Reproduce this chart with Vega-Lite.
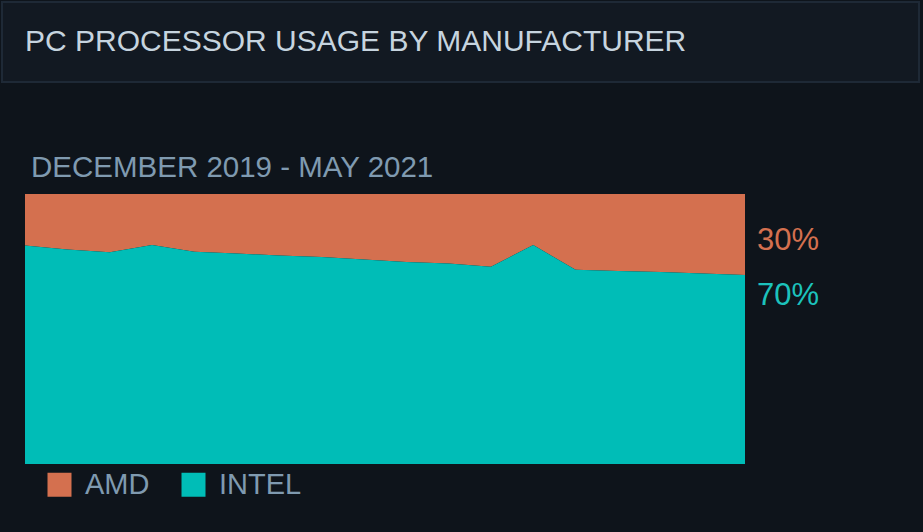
{
  "$schema": "https://vega.github.io/schema/vega-lite/v6.json",
  "background": "#0e141b",
  "padding": {"left": 0, "top": 0, "right": 3, "bottom": 13},
  "spacing": 69,
  "config": {"view": {"stroke": null}},
  "vconcat": [
    {
      "width": 917,
      "height": 80,
      "view": {"fill": "#121922", "stroke": "#1e2936", "strokeWidth": 2},
      "title": {
        "text": "PC PROCESSOR USAGE BY MANUFACTURER",
        "anchor": "start",
        "frame": "group",
        "baseline": "alphabetic",
        "offset": -79,
        "dx": 23,
        "fontSize": 30,
        "font": "Liberation Sans",
        "fontWeight": "normal",
        "color": "#c6d4df"
      },
      "data": {"values": [{}]},
      "mark": {"type": "rule", "strokeOpacity": 0},
      "encoding": {}
    },
    {
      "spacing": 22,
      "resolve": {"legend": {"color": "independent"}, "scale": {"color": "independent"}},
      "hconcat": [
        {
          "width": 1,
          "height": 1,
          "data": {"values": [{}]},
          "mark": {"type": "rule", "strokeOpacity": 0},
          "encoding": {}
        },
        {
          "width": 720,
          "height": 270,
          "title": {
            "text": "DECEMBER 2019 - MAY 2021",
            "anchor": "start",
            "frame": "group",
            "baseline": "alphabetic",
            "offset": -12,
            "dx": 6,
            "fontSize": 29.5,
            "font": "Liberation Sans",
            "fontWeight": "normal",
            "color": "#7f9ab0"
          },
          "data": {
            "values": [
              {"month": "2019-12", "INTEL": 0.809, "AMD": 0.191},
              {"month": "2020-01", "INTEL": 0.794, "AMD": 0.206},
              {"month": "2020-02", "INTEL": 0.784, "AMD": 0.216},
              {"month": "2020-03", "INTEL": 0.811, "AMD": 0.189},
              {"month": "2020-04", "INTEL": 0.786, "AMD": 0.214},
              {"month": "2020-05", "INTEL": 0.780, "AMD": 0.220},
              {"month": "2020-06", "INTEL": 0.772, "AMD": 0.228},
              {"month": "2020-07", "INTEL": 0.767, "AMD": 0.233},
              {"month": "2020-08", "INTEL": 0.757, "AMD": 0.243},
              {"month": "2020-09", "INTEL": 0.748, "AMD": 0.252},
              {"month": "2020-10", "INTEL": 0.743, "AMD": 0.257},
              {"month": "2020-11", "INTEL": 0.731, "AMD": 0.269},
              {"month": "2020-12", "INTEL": 0.811, "AMD": 0.189},
              {"month": "2021-01", "INTEL": 0.719, "AMD": 0.281},
              {"month": "2021-02", "INTEL": 0.715, "AMD": 0.285},
              {"month": "2021-03", "INTEL": 0.711, "AMD": 0.289},
              {"month": "2021-04", "INTEL": 0.706, "AMD": 0.294},
              {"month": "2021-05", "INTEL": 0.700, "AMD": 0.300}
            ]
          },
          "layer": [
            {
              "transform": [{"fold": ["AMD", "INTEL"], "as": ["maker", "share"]}],
              "mark": {"type": "area", "interpolate": "linear", "opacity": 1},
              "encoding": {
                "x": {"field": "month", "type": "ordinal", "scale": {"type": "point", "padding": 0}, "axis": null},
                "y": {
                  "field": "share", "type": "quantitative", "stack": "normalize",
                  "scale": {"domain": [0, 1], "nice": false},
                  "axis": null
                },
                "color": {
                  "field": "maker", "type": "nominal",
                  "scale": {"domain": ["AMD", "INTEL"], "range": ["#d4704f", "#00bdb7"]},
                  "legend": {
                    "orient": "bottom", "direction": "horizontal", "title": null,
                    "symbolType": "square", "symbolSize": 576, "symbolStrokeWidth": 0, "symbolOpacity": 1,
                    "labelFontSize": 29, "labelFont": "Liberation Sans", "labelColor": "#7f9ab0",
                    "labelOffset": 11, "columnPadding": 29, "padding": 20, "offset": -14
                  }
                },
                "order": {"field": "maker", "sort": "descending"}
              }
            },
            {
              "transform": [{"filter": "datum.month === '2021-05'"}],
              "mark": {"type": "text", "align": "left", "baseline": "alphabetic", "dx": 12, "dy": -25, "fontSize": 31, "font": "Liberation Sans", "color": "#d4704f"},
              "encoding": {
                "x": {"field": "month", "type": "ordinal"},
                "y": {"field": "INTEL", "type": "quantitative", "axis": null},
                "text": {"field": "AMD", "type": "quantitative", "format": ".0%"}
              }
            },
            {
              "transform": [{"filter": "datum.month === '2021-05'"}],
              "mark": {"type": "text", "align": "left", "baseline": "alphabetic", "dx": 12, "dy": 30, "fontSize": 31, "font": "Liberation Sans", "color": "#1cc2bc"},
              "encoding": {
                "x": {"field": "month", "type": "ordinal"},
                "y": {"field": "INTEL", "type": "quantitative", "axis": null},
                "text": {"field": "INTEL", "type": "quantitative", "format": ".0%"}
              }
            }
          ]
        }
      ]
    }
  ]
}
